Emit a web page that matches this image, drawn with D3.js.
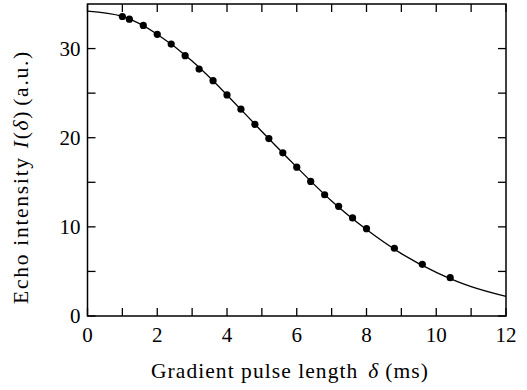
<!DOCTYPE html>
<html><head><meta charset="utf-8">
<script src="https://cdn.jsdelivr.net/npm/d3@7"></script>
<style>body{margin:0;background:#fff}svg{display:block}</style>
</head><body><svg id="c" width="527" height="390"></svg>
<script>
const pointX = [1.0,1.2,1.6,2.0,2.4,2.8,3.2,3.6,4.0,4.4,4.8,5.2,5.6,6.0,6.4,6.8,7.2,7.6,8.0,8.8,9.6,10.4];
const pointY = [33.6,33.3,32.6,31.6,30.5,29.2,27.7,26.4,24.8,23.2,21.5,19.9,18.3,16.7,15.1,13.6,12.3,11.0,9.8,7.6,5.8,4.3];
const curveX = [0,1,2,3,4,5,6,7,8,9,10,11,12];
const curveY = [34.2,33.6,31.6,28.6,24.8,20.7,16.7,12.9,9.7,7.0,4.9,3.3,2.2];
const xTicks = [0,2,4,6,8,10,12];
const xMinor = [1,3,5,7,9,11];
const yTicks = [0,10,20,30];
const yMinor = [5,15,25];

const FF = "'Liberation Serif', 'Times New Roman', Times, serif";
const svg = d3.select("#c");
const L=87.5,R=506,T=4,B=316;
const x = d3.scaleLinear().domain([0,12]).range([L,R]);
const y = d3.scaleLinear().domain([0,35]).range([B,T]);
const tl=8;
const g = svg.append("g").attr("font-family",FF).attr("fill","#000");
g.append("rect").attr("x",L).attr("y",T).attr("width",R-L).attr("height",B-T)
 .attr("fill","none").attr("stroke","#000").attr("stroke-width",1.5);
const allX = xTicks.concat(xMinor), allY = yTicks.concat(yMinor);
allX.forEach(v=>{
  g.append("line").attr("x1",x(v)).attr("x2",x(v)).attr("y1",B).attr("y2",B-tl).attr("stroke","#000").attr("stroke-width",1.3);
  g.append("line").attr("x1",x(v)).attr("x2",x(v)).attr("y1",T).attr("y2",T+tl).attr("stroke","#000").attr("stroke-width",1.3);
});
allY.forEach(v=>{
  g.append("line").attr("y1",y(v)).attr("y2",y(v)).attr("x1",L).attr("x2",L+tl).attr("stroke","#000").attr("stroke-width",1.3);
  g.append("line").attr("y1",y(v)).attr("y2",y(v)).attr("x1",R).attr("x2",R-tl).attr("stroke","#000").attr("stroke-width",1.3);
});
xTicks.forEach(v=>{
  g.append("text").attr("x",x(v)).attr("y",B+26).attr("text-anchor","middle").attr("font-size",21).text(v);
});
yTicks.forEach(v=>{
  g.append("text").attr("x",L-7).attr("y",y(v)+7).attr("text-anchor","end").attr("font-size",21).text(v);
});
const line = d3.line().x(d=>x(d[0])).y(d=>y(d[1])).curve(d3.curveNatural);
g.append("path").datum(curveX.map((v,i)=>[v,curveY[i]])).attr("d",line)
 .attr("fill","none").attr("stroke","#000").attr("stroke-width",1.3);
g.selectAll("circle.p").data(pointX.map((v,i)=>[v,pointY[i]])).enter().append("circle")
 .attr("cx",d=>x(d[0])).attr("cy",d=>y(d[1])).attr("r",3.6).attr("fill","#000");

function fit(sel, target){
  const n = sel.text().length;
  const w = sel.node().getComputedTextLength();
  sel.attr("letter-spacing", Math.max(0,(target-w)/n));
}
const xt = g.append("text").attr("x",290).attr("y",378).attr("text-anchor","middle").attr("font-size",21.5);
xt.append("tspan").text("Gradient pulse length");
xt.append("tspan").attr("font-style","italic").attr("dx",10).text("δ");
xt.append("tspan").attr("dx",6).text("(ms)");
fit(xt, 262);
const yt = g.append("text").attr("transform","translate(28,177) rotate(-90)").attr("text-anchor","middle").attr("font-size",21.5);
yt.append("tspan").text("Echo intensity");
yt.append("tspan").attr("font-style","italic").attr("dx",8).text("I");
yt.append("tspan").text("(");
yt.append("tspan").attr("font-style","italic").text("δ");
yt.append("tspan").text(")");
yt.append("tspan").attr("dx",4).text("(a.u.)");
fit(yt, 242);
</script></body></html>
